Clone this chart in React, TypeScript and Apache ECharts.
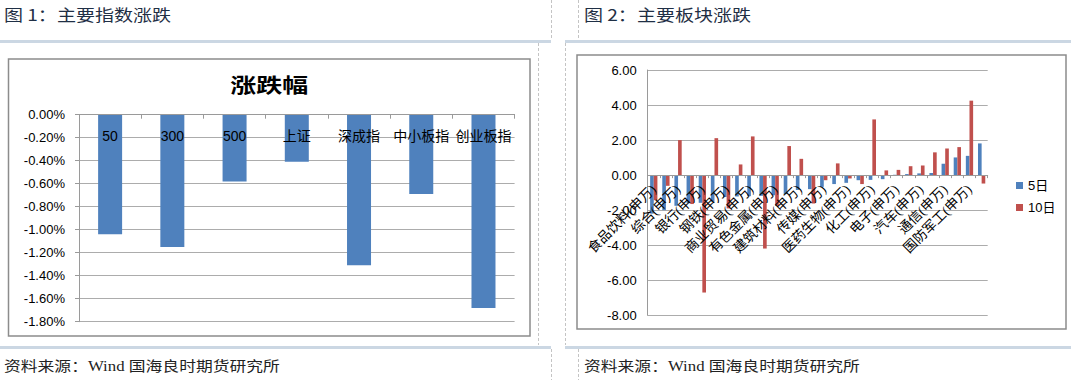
import React, { useEffect, useRef } from 'react';
import * as echarts from 'echarts';

// ---- data: figure 1 (index changes, %) ----
const indexCategories = ['50', '300', '500', '上证', '深成指', '中小板指', '创业板指'];
const indexChanges = [-1.04, -1.15, -0.58, -0.41, -1.31, -0.69, -1.68];
const indexAxisMin = -1.8;
const indexAxisMax = 0;
const indexAxisStep = 0.2;

// ---- data: figure 2 (sector changes) ----
const sectorNames = [
  '食品饮料', '家用电器', '综合', '非银金融', '银行', '房地产', '钢铁', '采掘',
  '商业贸易', '休闲服务', '有色金属', '交通运输', '建筑材料', '纺织服装', '传媒', '农林牧渔',
  '医药生物', '轻工制造', '化工', '公用事业', '电子', '计算机', '汽车', '建筑装饰',
  '通信', '电气设备', '国防军工', '机械设备',
];
const sector5d = [
  -2.2, -2.0, -1.75, -1.6, -1.58, -1.52, -1.25, -1.22,
  -1.2, -1.18, -1.15, -1.08, -0.85, -0.8, -0.67, -0.51,
  -0.44, -0.29, -0.27, -0.23, 0.02, 0.06, 0.1, 0.12,
  0.65, 1.01, 1.1, 1.81,
];
const sector10d = [
  -1.43, -0.61, 2.0, -1.65, -6.7, 2.11, -1.9, 0.61,
  2.21, -4.19, -1.75, 1.66, 0.93, -1.62, -0.29, 0.67,
  -0.19, -0.51, 3.18, 0.27, 0.3, 0.51, 0.55, 1.3,
  1.52, 1.6, 4.25, -0.48,
];
const sectorSeriesNames = ['5日', '10日'];
const sectorAxisMin = -8;
const sectorAxisMax = 6;
const sectorAxisStep = 2;

// ---- texts ----
const chartTitle = '涨跌幅';
const header1 = '图 1：主要指数涨跌';
const header2 = '图 2：主要板块涨跌';
const sourceText = '资料来源：Wind 国海良时期货研究所';

const SANS = "'Liberation Sans', 'Noto Sans CJK SC', sans-serif";
const SERIF = "'Liberation Serif', 'Noto Sans CJK SC', serif";
const CJK = "'Noto Sans CJK SC', sans-serif";

const BLUE = '#4f81bd';
const RED = '#c0504d';
const GRID = '#acacac';
const AXIS = '#9a9a9a';

const fmt2 = (v: number) => (Math.abs(v) < 1e-9 ? 0 : v).toFixed(2);

function textEl(text: string, x: number, y: number, font: string, fill: string, scaleX: number, align = 'left') {
  return {
    type: 'text',
    x,
    y,
    scaleX,
    silent: true,
    style: {
      text,
      font,
      fill,
      align,
      verticalAlign: 'middle',
      textAlign: align,
      textVerticalAlign: 'middle',
    },
  };
}

function dashed(x: number, y1: number, y2: number) {
  return {
    type: 'line',
    silent: true,
    shape: { x1: x, y1, x2: x, y2 },
    style: { stroke: '#c4c4c4', lineWidth: 1, lineDash: [3, 2] },
  };
}

function band(x: number, y: number, w: number) {
  return {
    type: 'rect',
    silent: true,
    shape: { x, y, width: w, height: 3 },
    style: { fill: '#cbd7e3' },
  };
}

function buildOption() {
  const sectorLabels = sectorNames.map((n) => n + '(申万)');
  const grid2Height = 245.3;
  // place the category axis on the value axis' zero line
  const zeroOffset = -((0 - sectorAxisMin) / (sectorAxisMax - sectorAxisMin)) * grid2Height;
  return {
    animation: false,
    backgroundColor: '#ffffff',
    legend: {
      show: true,
      orient: 'vertical',
      left: 1011,
      top: 174,
      itemWidth: 7,
      itemHeight: 7,
      itemGap: 9,
      icon: 'rect',
      data: sectorSeriesNames,
      textStyle: { fontSize: 13, color: '#000', fontFamily: SANS },
    },
    grid: [
      { left: 79, top: 114.7, width: 435.6, height: 207 },
      { left: 647.7, top: 70, width: 340, height: grid2Height },
    ],
    xAxis: [
      {
        type: 'category',
        gridIndex: 0,
        position: 'top',
        z: 10,
        data: indexCategories,
        axisLine: { show: true, onZero: false, lineStyle: { color: AXIS } },
        axisTick: { show: true, inside: true, length: 4, lineStyle: { color: AXIS } },
        axisLabel: { interval: 0, hideOverlap: false, inside: true, margin: 14, fontSize: 14, color: '#000', fontFamily: SANS },
        splitLine: { show: false },
      },
      {
        type: 'category',
        gridIndex: 1,
        position: 'bottom',
        offset: zeroOffset,
        z: 10,
        data: sectorLabels,
        axisLine: { show: true, onZero: false, lineStyle: { color: AXIS } },
        axisTick: { show: true, interval: 0, length: 3, lineStyle: { color: AXIS } },
        axisLabel: { interval: 1, rotate: 45, fontSize: 13.5, margin: 12, color: '#000', fontFamily: SERIF },
        splitLine: { show: false },
      },
    ],
    yAxis: [
      {
        type: 'value',
        gridIndex: 0,
        min: indexAxisMin,
        max: indexAxisMax,
        interval: indexAxisStep,
        axisLine: { show: true, lineStyle: { color: AXIS } },
        axisTick: { show: true, length: 4, lineStyle: { color: AXIS } },
        axisLabel: { formatter: (v: number) => fmt2(v) + '%', fontSize: 13, margin: 14, color: '#000', fontFamily: SANS },
        splitLine: { show: true, lineStyle: { color: GRID } },
      },
      {
        type: 'value',
        gridIndex: 1,
        min: sectorAxisMin,
        max: sectorAxisMax,
        interval: sectorAxisStep,
        axisLine: { show: true, lineStyle: { color: AXIS } },
        axisTick: { show: false },
        axisLabel: { formatter: (v: number) => fmt2(v), fontSize: 13, margin: 11, color: '#000', fontFamily: SANS },
        splitLine: { show: true, lineStyle: { color: GRID } },
      },
    ],
    series: [
      {
        name: chartTitle,
        type: 'bar',
        xAxisIndex: 0,
        yAxisIndex: 0,
        data: indexChanges,
        barWidth: 24,
        itemStyle: { color: BLUE },
      },
      {
        name: sectorSeriesNames[0],
        type: 'bar',
        xAxisIndex: 1,
        yAxisIndex: 1,
        data: sector5d,
        barGap: '0%',
        barCategoryGap: '40%',
        itemStyle: { color: BLUE },
      },
      {
        name: sectorSeriesNames[1],
        type: 'bar',
        xAxisIndex: 1,
        yAxisIndex: 1,
        data: sector10d,
        barGap: '0%',
        barCategoryGap: '40%',
        itemStyle: { color: RED },
      },
    ],
    graphic: [
      // header row
      textEl(header1, 4, 14.5, `16px ${CJK}`, '#1f2f45', 1.19),
      textEl(header2, 584, 14.5, `16px ${CJK}`, '#1f2f45', 1.19),
      dashed(551.5, 0, 40),
      dashed(578.5, 0, 40),
      band(0, 40, 551),
      band(565, 40, 506),
      // middle row separators
      dashed(538.5, 43, 345),
      dashed(565.5, 43, 345),
      // chart frames
      {
        type: 'rect',
        silent: true,
        shape: { x: 8.5, y: 59, width: 521.5, height: 277 },
        style: { fill: 'none', stroke: '#8c8c8c', lineWidth: 1.5 },
      },
      {
        type: 'rect',
        silent: true,
        shape: { x: 577, y: 55, width: 489, height: 274 },
        style: { fill: 'none', stroke: '#8c8c8c', lineWidth: 1.5 },
      },
      textEl(chartTitle, 269.3, 84, `bold 20px ${CJK}`, '#000', 1.3, 'center'),
      // footer row
      band(0, 346, 551),
      band(565, 346, 506),
      dashed(551.5, 349, 380),
      dashed(578.5, 349, 380),
      textEl(sourceText, 4, 366, `14px ${SERIF}`, '#222', 1.2),
      textEl(sourceText, 584, 366, `14px ${SERIF}`, '#222', 1.2),
    ],
  };
}

export default function App() {
  const ref = useRef<HTMLDivElement>(null);
  useEffect(() => {
    if (!ref.current) return;
    const chart = echarts.init(ref.current, null, { renderer: 'svg' });
    chart.setOption(buildOption() as any);
    return () => chart.dispose();
  }, []);
  return (
    <div
      ref={ref}
      style={{ position: 'absolute', left: 0, top: 0, width: 1071, height: 380, background: '#fff' }}
    />
  );
}
